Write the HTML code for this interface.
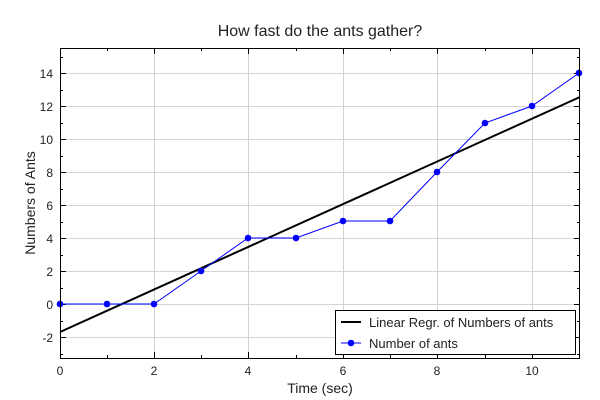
<!DOCTYPE html>
<html><head><style>body{margin:0;background:#fff}svg{display:block}text{font-family:"Liberation Sans",sans-serif;fill:#222}</style></head>
<body>
<svg width="600" height="400" xmlns="http://www.w3.org/2000/svg">
<text x="320" y="36" font-size="16" text-anchor="middle">How fast do the ants gather?</text>
<g stroke="#d4d4d4" stroke-width="1">
<line x1="154.5" y1="48" x2="154.5" y2="358"/><line x1="248.5" y1="48" x2="248.5" y2="358"/><line x1="343.5" y1="48" x2="343.5" y2="358"/><line x1="437.5" y1="48" x2="437.5" y2="358"/><line x1="532.5" y1="48" x2="532.5" y2="358"/>
<line x1="60" y1="73.5" x2="580" y2="73.5"/><line x1="60" y1="106.5" x2="580" y2="106.5"/><line x1="60" y1="139.5" x2="580" y2="139.5"/><line x1="60" y1="172.5" x2="580" y2="172.5"/><line x1="60" y1="205.5" x2="580" y2="205.5"/><line x1="60" y1="238.5" x2="580" y2="238.5"/><line x1="60" y1="271.5" x2="580" y2="271.5"/><line x1="60" y1="304.5" x2="580" y2="304.5"/><line x1="60" y1="337.5" x2="580" y2="337.5"/>
</g>
<g stroke="#000" stroke-width="1">
<path d="M154.5 48v6M248.5 48v6M343.5 48v6M437.5 48v6M532.5 48v6M107.5 48v3M201.5 48v3M296.5 48v3M390.5 48v3M485.5 48v3
M154.5 358v-6M248.5 358v-6M343.5 358v-6M437.5 358v-6M532.5 358v-6M107.5 358v-3M201.5 358v-3M296.5 358v-3M390.5 358v-3M485.5 358v-3
M60 73.5h6M60 106.5h6M60 139.5h6M60 172.5h6M60 205.5h6M60 238.5h6M60 271.5h6M60 304.5h6M60 337.5h6
M60 57.5h3M60 90.5h3M60 123.5h3M60 156.5h3M60 189.5h3M60 222.5h3M60 255.5h3M60 288.5h3M60 321.5h3M60 354.5h3
M580 73.5h-6M580 106.5h-6M580 139.5h-6M580 172.5h-6M580 205.5h-6M580 238.5h-6M580 271.5h-6M580 304.5h-6M580 337.5h-6
M580 57.5h-3M580 90.5h-3M580 123.5h-3M580 156.5h-3M580 189.5h-3M580 222.5h-3M580 255.5h-3M580 288.5h-3M580 321.5h-3M580 354.5h-3"/>
</g>
<line x1="60" y1="332" x2="580" y2="97" stroke="#000" stroke-width="2"/>
<polyline fill="none" stroke="#0000ff" stroke-width="1" points="60,304 107,304 154,304 201,271 248,238 296,238 343,221 390,221 437,172 485,123 532,106 579,73"/>
<g fill="#0000ff"><circle cx="60" cy="304" r="3.3"/><circle cx="107" cy="304" r="3.3"/><circle cx="154" cy="304" r="3.3"/><circle cx="201" cy="271" r="3.3"/><circle cx="248" cy="238" r="3.3"/><circle cx="296" cy="238" r="3.3"/><circle cx="343" cy="221" r="3.3"/><circle cx="390" cy="221" r="3.3"/><circle cx="437" cy="172" r="3.3"/><circle cx="485" cy="123" r="3.3"/><circle cx="532" cy="106" r="3.3"/><circle cx="579" cy="73" r="3.3"/></g>
<rect x="60.5" y="48.5" width="519" height="310" fill="none" stroke="#000"/>
<g font-size="12" text-anchor="end">
<text x="53" y="78">14</text><text x="53" y="111">12</text><text x="53" y="144">10</text><text x="53" y="177">8</text><text x="53" y="210">6</text><text x="53" y="243">4</text><text x="53" y="276">2</text><text x="53" y="309">0</text><text x="53" y="342">-2</text>
</g>
<g font-size="12" text-anchor="middle">
<text x="60" y="375">0</text><text x="154" y="375">2</text><text x="248" y="375">4</text><text x="343" y="375">6</text><text x="437" y="375">8</text><text x="532" y="375">10</text>
</g>
<text x="320" y="393" font-size="14" text-anchor="middle">Time (sec)</text>
<text transform="translate(35 203) rotate(-90)" font-size="14" text-anchor="middle">Numbers of Ants</text>
<rect x="335.5" y="310.5" width="240" height="44" fill="#fff" stroke="#000"/>
<line x1="341" y1="322" x2="361" y2="322" stroke="#000" stroke-width="2"/>
<line x1="341" y1="343" x2="361" y2="343" stroke="#0000ff"/><circle cx="351" cy="343" r="3.3" fill="#0000ff"/>
<text x="369" y="327" font-size="13">Linear Regr. of Numbers of ants</text>
<text x="369" y="348" font-size="13">Number of ants</text>
</svg>
</body></html>
